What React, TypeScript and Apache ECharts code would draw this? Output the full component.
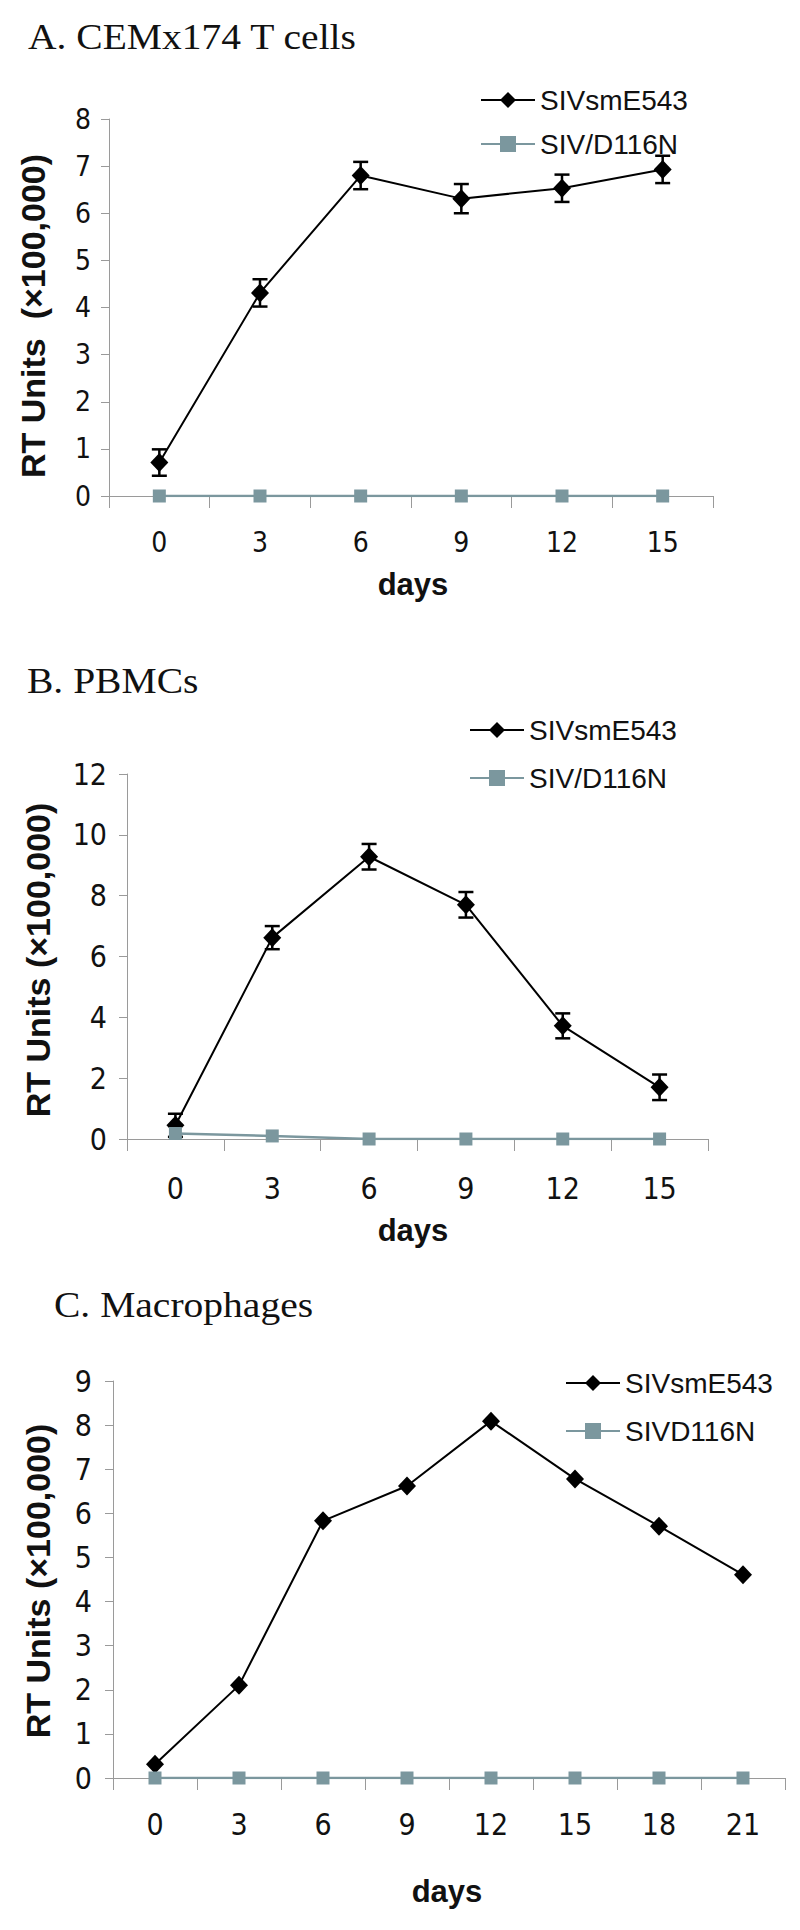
import React, { useEffect, useRef } from "react";
import * as echarts from "echarts";

// ---- data ----
const daysA = ["0", "3", "6", "9", "12", "15"];
const wtA = [0.71, 4.31, 6.8, 6.31, 6.53, 6.93];
const wtErrA = [0.28, 0.29, 0.29, 0.31, 0.29, 0.29];
const mutA = [0, 0, 0, 0, 0, 0];

const daysB = ["0", "3", "6", "9", "12", "15"];
const wtB = [0.45, 6.62, 9.28, 7.7, 3.72, 1.7];
const wtErrB = [0.38, 0.38, 0.42, 0.42, 0.41, 0.42];
const mutB = [0.18, 0.1, 0, 0, 0, 0];

const daysC = ["0", "3", "6", "9", "12", "15", "18", "21"];
const wtC = [0.31, 2.1, 5.83, 6.62, 8.09, 6.78, 5.71, 4.61];
const mutC = [0, 0, 0, 0, 0, 0, 0, 0];

const titles = ["A. CEMx174 T cells", "B. PBMCs", "C. Macrophages"];
const yTitles = ["RT Units  (\u00d7100,000)", "RT Units (\u00d7100,000)", "RT Units (\u00d7100,000)"];
const wtName = "SIVsmE543";
const mutNames = ["SIV/D116N", "SIV/D116N", "SIVD116N"];

const BLACK = "#000000";
const GRAY = "#7b979e";
const AXIS = "#9a9a9a";
const SANS = "'Liberation Sans', Arial, sans-serif";
const NARROW = "'Liberation Sans Narrow', 'Arial Narrow', 'DejaVu Sans Condensed', 'Liberation Sans', sans-serif";
const SERIF = "'Liberation Serif', 'Times New Roman', serif";

export default function App() {
  const ref = useRef<HTMLDivElement>(null);
  useEffect(() => {
    document.body.style.margin = "0";
    const chart = echarts.init(ref.current!, null, { renderer: "svg" });

    const grids = [
      { left: 109, top: 119, width: 604, height: 377 },
      { left: 127, top: 774, width: 581, height: 365 },
      { left: 113, top: 1381, width: 672, height: 397 },
    ];
    const yMax = [8, 12, 9];
    const yInt = [1, 2, 1];
    const cats = [daysA, daysB, daysC];
    const xMargins = [32, 34, 31];
    const yMargins = [18, 20, 21];
    const tickFont = [28, 30, 30];

    const xAxis = grids.map((g, i) => ({
      type: "category",
      gridIndex: i,
      data: cats[i],
      boundaryGap: true,
      axisLine: { lineStyle: { color: AXIS, width: 1 } },
      axisTick: { show: true, length: 12, lineStyle: { color: AXIS } },
      axisLabel: { color: "#111", fontSize: tickFont[i], fontFamily: NARROW, margin: xMargins[i] },
      splitLine: { show: false },
    }));
    const yAxis = grids.map((g, i) => ({
      type: "value",
      gridIndex: i,
      min: 0,
      max: yMax[i],
      interval: yInt[i],
      axisLine: { show: true, lineStyle: { color: AXIS, width: 1 } },
      axisTick: { show: true, length: 8, lineStyle: { color: AXIS } },
      axisLabel: { color: "#111", fontSize: tickFont[i], fontFamily: NARROW, margin: yMargins[i] },
      splitLine: { show: false },
    }));

    const errRender = (params: any, api: any) => {
      const x = api.value(0);
      const v = api.value(1);
      const e = api.value(2);
      const t = api.coord([x, v + e]);
      const b = api.coord([x, v - e]);
      const hw = 7.5;
      const st = { stroke: BLACK, lineWidth: 2.5 };
      return {
        type: "group",
        children: [
          { type: "line", shape: { x1: t[0], y1: t[1], x2: b[0], y2: b[1] }, style: st },
          { type: "line", shape: { x1: t[0] - hw, y1: t[1], x2: t[0] + hw, y2: t[1] }, style: st },
          { type: "line", shape: { x1: b[0] - hw, y1: b[1], x2: b[0] + hw, y2: b[1] }, style: st },
        ],
      };
    };

    const wt = [wtA, wtB, wtC];
    const mut = [mutA, mutB, mutC];
    const errs = [wtErrA, wtErrB, null];

    const series: any[] = [];
    for (let i = 0; i < 3; i++) {
      series.push({
        name: wtName,
        type: "line",
        xAxisIndex: i,
        yAxisIndex: i,
        data: wt[i],
        symbol: "diamond",
        symbolSize: [18, 19],
        color: BLACK,
        lineStyle: { color: BLACK, width: 2 },
        itemStyle: { color: BLACK },
        z: 4,
      });
      series.push({
        name: mutNames[i],
        type: "line",
        xAxisIndex: i,
        yAxisIndex: i,
        data: mut[i],
        symbol: "rect",
        symbolSize: 13,
        color: GRAY,
        lineStyle: { color: GRAY, width: 2.5 },
        itemStyle: { color: GRAY },
        z: 6,
      });
      const e = errs[i];
      if (e) {
        series.push({
          name: "err" + i,
          type: "custom",
          xAxisIndex: i,
          yAxisIndex: i,
          renderItem: errRender,
          data: wt[i].map((v, k) => [k, v, e[k]]),
          z: 3,
        });
      }
    }

    const legendPos = [
      { left: 475, top: 80, itemGap: 14, fs: 28 },
      { left: 464, top: 710, itemGap: 18, fs: 28 },
      { left: 560, top: 1363, itemGap: 18, fs: 28 },
    ];
    const legend = legendPos.map((p, i) => ({
      left: p.left,
      top: p.top,
      orient: "vertical",
      itemGap: p.itemGap,
      itemWidth: 54,
      itemHeight: 20,
      data: [wtName, mutNames[i]],
      textStyle: { fontSize: p.fs, fontFamily: SANS, color: "#111", lineHeight: 30 },
      selectedMode: false,
    }));

    const titlePos = [
      { x: 28, y: 37 },
      { x: 27, y: 681 },
      { x: 54, y: 1305 },
    ];
    const yTitlePos = [
      { x: 33, y: 316 },
      { x: 38, y: 960 },
      { x: 38, y: 1581 },
    ];
    const daysPos = [
      { x: 413, y: 584 },
      { x: 413, y: 1230 },
      { x: 447, y: 1891 },
    ];
    const graphic: any[] = [];
    for (let i = 0; i < 3; i++) {
      graphic.push({
        type: "text",
        x: titlePos[i].x,
        y: titlePos[i].y,
        scaleX: 1.13,
        style: {
          text: titles[i],
          fontSize: 35,
          fontFamily: SERIF,
          fill: "#111",
          textAlign: "left",
          textVerticalAlign: "middle",
        },
      });
      graphic.push({
        type: "text",
        x: yTitlePos[i].x,
        y: yTitlePos[i].y,
        rotation: Math.PI / 2,
        style: {
          text: yTitles[i],
          fontSize: 34,
          fontWeight: "bold",
          fontFamily: SANS,
          fill: "#111",
          textAlign: "center",
          textVerticalAlign: "middle",
        },
      });
      graphic.push({
        type: "text",
        x: daysPos[i].x,
        y: daysPos[i].y,
        style: {
          text: "days",
          fontSize: 31,
          fontWeight: "bold",
          fontFamily: SANS,
          fill: "#111",
          textAlign: "center",
          textVerticalAlign: "middle",
        },
      });
    }

    chart.setOption({
      animation: false,
      backgroundColor: "#ffffff",
      grid: grids,
      xAxis,
      yAxis,
      series,
      legend,
      graphic,
    });
    return () => chart.dispose();
  }, []);
  return <div ref={ref} style={{ width: 800, height: 1930 }} />;
}
